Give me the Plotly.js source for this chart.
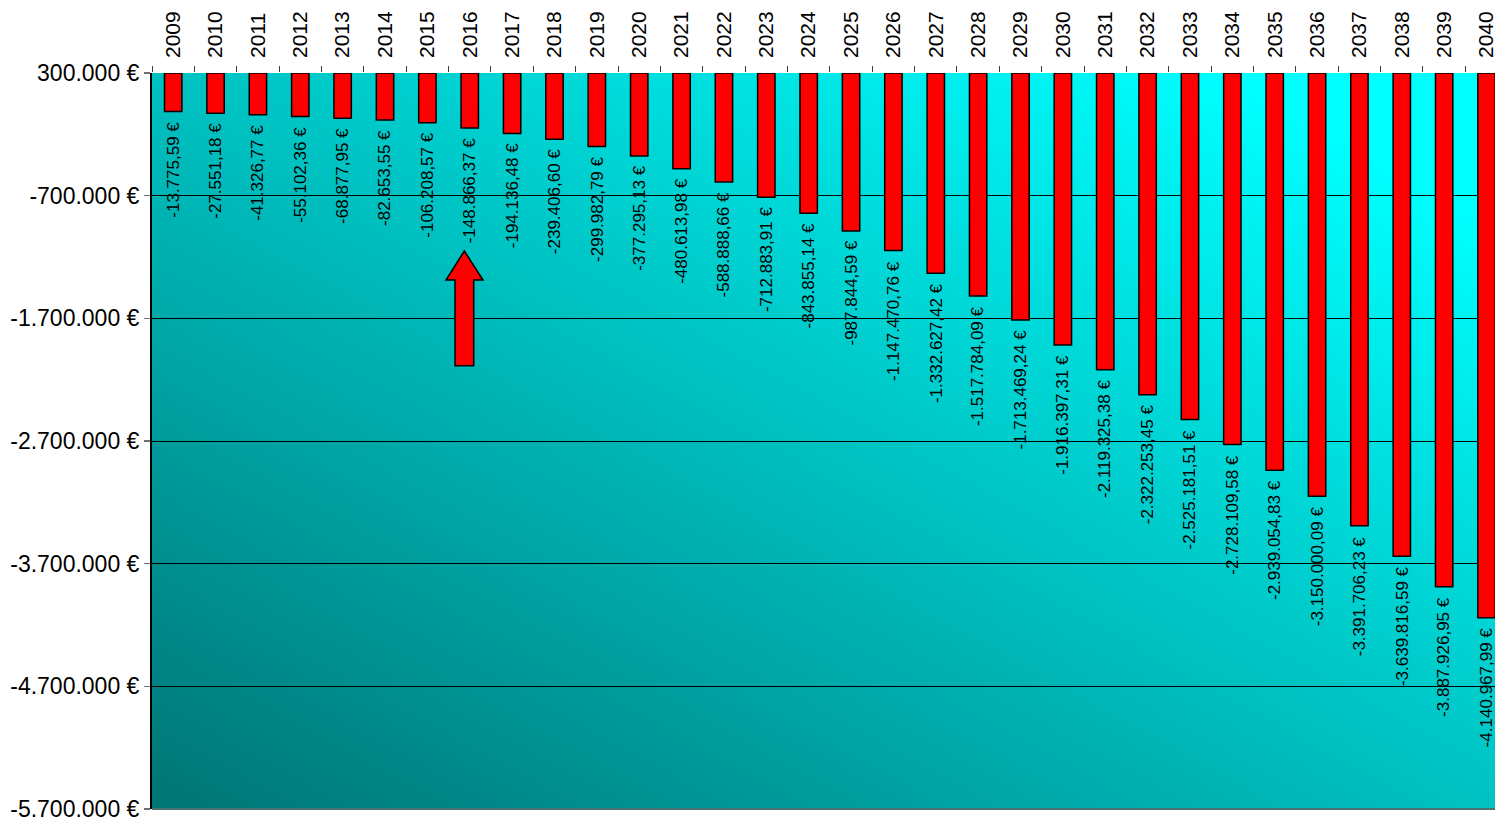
<!DOCTYPE html>
<html>
<head>
<meta charset="utf-8">
<script src="https://cdn.plot.ly/plotly-3.0.1.min.js"></script>
<style>
  html, body { margin: 0; padding: 0; background: #ffffff; overflow: hidden; }
  #chart { width: 1495px; height: 821px; }
</style>
</head>
<body>
<div id="chart"></div>
<script>
// ---- data ----
const years = ['2009','2010','2011','2012','2013','2014','2015','2016','2017','2018',
  '2019','2020','2021','2022','2023','2024','2025','2026','2027','2028',
  '2029','2030','2031','2032','2033','2034','2035','2036','2037','2038',
  '2039','2040'];
const balance = [-13775.59, -27551.18, -41326.77, -55102.36, -68877.95, -82653.55,
  -106208.57, -148866.37, -194136.48, -239406.60, -299982.79, -377295.13,
  -480613.98, -588888.66, -712883.91, -843855.14, -987844.59, -1147470.76,
  -1332627.42, -1517784.09, -1713469.24, -1916397.31, -2119325.38, -2322253.45,
  -2525181.51, -2728109.58, -2939054.83, -3150000.09, -3391706.23, -3639816.59,
  -3887926.95, -4140967.99];
const axisTop = 300000;      // bars hang from the top of the value axis
const axisBottom = -5700000;
const yTickVals = [300000, -700000, -1700000, -2700000, -3700000, -4700000, -5700000];
const yTickText = ['300.000 €', '-700.000 €', '-1.700.000 €', '-2.700.000 €',
  '-3.700.000 €', '-4.700.000 €', '-5.700.000 €'];

function fmtEuro(v) {
  const neg = v < 0;
  const parts = Math.abs(v).toFixed(2).split('.');
  const intPart = parts[0].replace(/\B(?=(\d{3})+(?!\d))/g, '.');
  return (neg ? '-' : '') + intPart + ',' + parts[1] + ' €';
}

const FONT = 'Liberation Sans, Arial, Helvetica, sans-serif';

const trace = {
  type: 'bar',
  x: years,
  base: axisTop,
  y: balance.map(v => v - axisTop),
  marker: { color: '#ff0000', line: { color: '#000000', width: 1.5 } },
  hoverinfo: 'skip'
};

const labelAnnotations = balance.map((v, i) => ({
  x: i, y: v, xref: 'x', yref: 'y',
  text: fmtEuro(v),
  showarrow: false, textangle: -90,
  xanchor: 'center', yanchor: 'top', yshift: -8,
  font: { family: FONT, size: 17, color: '#000000' }
}));

const gradSvg = "<svg xmlns='http://www.w3.org/2000/svg' width='100' height='100' viewBox='0 0 100 100' preserveAspectRatio='none'>" +
  "<defs><linearGradient id='g' x1='0' y1='1' x2='1' y2='0'>" +
  "<stop offset='0' stop-color='#007474'/>" +
  "<stop offset='0.9' stop-color='#00ffff'/>" +
  "<stop offset='1' stop-color='#00ffff'/>" +
  "</linearGradient></defs><rect width='100' height='100' fill='url(#g)'/></svg>";
const gradUri = 'data:image/svg+xml;charset=utf-8,' + encodeURIComponent(gradSvg);

const px = (p) => (p - 152) / 1343;
const py = (p) => (809 - p) / 736;
const arrowPath = 'M ' + px(464.3) + ' ' + py(251) +
  ' L ' + px(483) + ' ' + py(280) +
  ' L ' + px(473.7) + ' ' + py(280) +
  ' L ' + px(473.7) + ' ' + py(365.7) +
  ' L ' + px(455) + ' ' + py(365.7) +
  ' L ' + px(455) + ' ' + py(280) +
  ' L ' + px(446) + ' ' + py(280) + ' Z';

const layout = {
  width: 1495, height: 821,
  margin: { l: 152, r: 0, t: 73, b: 12, pad: 0 },
  paper_bgcolor: '#ffffff',
  plot_bgcolor: '#00b8b8',
  showlegend: false,
  bargap: 0.59,
  font: { family: FONT, color: '#000000' },
  xaxis: {
    type: 'category', side: 'top', range: [-0.5, 31.2],
    tickangle: -90, tickfont: { family: FONT, size: 21, color: '#000000' },
    ticks: 'outside', tickson: 'boundaries', ticklen: 6, tickcolor: '#404040', tickwidth: 1,
    ticklabelstandoff: 14, ticklabeloverflow: 'allow',
    showgrid: false, showline: false, zeroline: false, fixedrange: true
  },
  yaxis: {
    range: [axisBottom, axisTop],
    tickvals: yTickVals, ticktext: yTickText,
    tickfont: { family: FONT, size: 23, color: '#000000' },
    ticks: 'outside', ticklen: 6, tickcolor: '#707070', tickwidth: 1.5,
    ticklabeloverflow: 'allow',
    showgrid: true, gridcolor: '#000000', gridwidth: 1,
    showline: true, linecolor: '#000000', linewidth: 2,
    zeroline: false, fixedrange: true
  },
  images: [{
    source: gradUri, xref: 'paper', yref: 'paper',
    x: 0, y: 1, sizex: 1, sizey: 1, sizing: 'stretch',
    xanchor: 'left', yanchor: 'top', layer: 'below'
  }],
  shapes: [
    { type: 'line', xref: 'paper', yref: 'paper', x0: 0, x1: 1, y0: 0, y1: 0,
      line: { color: '#4a7373', width: 2 } },
    { type: 'path', xref: 'paper', yref: 'paper', path: arrowPath,
      fillcolor: '#ff0000', line: { color: '#000000', width: 1.5 }, layer: 'above' }
  ],
  annotations: labelAnnotations
};

Plotly.newPlot('chart', [trace], layout, { displayModeBar: false, staticPlot: true });
</script>
</body>
</html>
